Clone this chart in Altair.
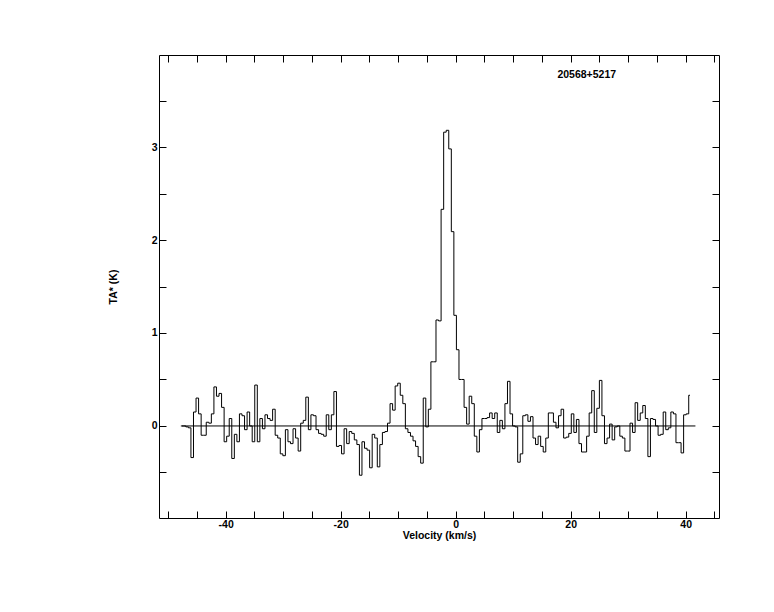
import altair as alt
import pandas as pd

# Spectrum: antenna temperature TA* (K) per channel
V_START = -47.6   # centre velocity of first channel (km/s)
DV = 0.444        # channel width (km/s)

seg_a = [0.0, 0.0, -0.01, -0.02, -0.34, 0.15, 0.30, 0.13, -0.10, -0.10, 0.04, 0.03,
         0.13, 0.42, 0.32, 0.35, 0.20, -0.17, -0.11, 0.08, -0.35, -0.09, -0.17, 0.13,
         0.11, -0.04, 0.15, 0.0, -0.17, 0.44, -0.17, 0.08, -0.03]
seg_b = [0.12, 0.08, 0.06, 0.18, -0.10, -0.13, -0.30, -0.32, -0.04, -0.17, -0.19, -0.03,
         -0.13, -0.27, 0.03, 0.06, 0.31, -0.04, 0.12, 0.11, -0.04, -0.08, -0.09, -0.11,
         0.12, -0.04, 0.12, 0.37, -0.22, -0.21, -0.30, -0.03, -0.19]
seg_c = [-0.06, -0.08, -0.15, -0.20, -0.53, -0.17, -0.24, -0.26, -0.45, -0.09, -0.13, -0.44,
         -0.20, -0.07, -0.06, 0.03, 0.24, 0.17, 0.43, 0.46, 0.33, 0.24, -0.03, -0.07,
         -0.11, -0.16, -0.22, -0.33, -0.40, 0.30, -0.01, 0.18]
seg_peak = [0.69, 0.69, 1.14, 1.13, 2.33, 3.16, 3.18, 2.98, 2.09, 1.19, 0.82, 0.50,
            0.50, 0.20, 0.02, 0.32, 0.24]
seg_d = [-0.11, -0.28, -0.04, 0.08, 0.08, 0.09, 0.14, 0.08, 0.14, -0.07, 0.06, -0.03,
         0.24, 0.48, 0.13, 0.0, -0.01, -0.39, -0.30, 0.11, 0.12, 0.05, 0.10, -0.13,
         -0.20, -0.11, -0.22, -0.28]
seg_e = [-0.13, 0.14, 0.14, 0.04, -0.02, 0.11, 0.18, -0.13, -0.12, -0.08, 0.13, -0.07,
         0.07, -0.19, -0.28, -0.28, -0.11, 0.14, 0.38, -0.07, 0.19, 0.49, 0.11, -0.19,
         -0.13, 0.02, -0.15, -0.01, 0.0, -0.11, -0.13, -0.27, -0.27, 0.03, -0.07]
seg_f = [0.25, 0.06, 0.14, 0.22, 0.08, -0.33, 0.08, 0.07, 0.0, -0.10, -0.09, 0.15,
         -0.04, -0.02, 0.15, 0.13, -0.18, -0.18, -0.29, 0.12, 0.13, 0.33]

ta = seg_a + seg_b + seg_c + seg_peak + seg_d + seg_e + seg_f
vel = [round(V_START + i * DV, 3) for i in range(len(ta))]
df = pd.DataFrame({"v": vel, "t": ta})

SOURCE = "20568+5217"
X_TITLE = "Velocity (km/s)"
Y_TITLE = "TA* (K)"
X_DOMAIN = [-51.6, 45.8]
Y_DOMAIN = [-0.99, 3.99]
X_TICKS = list(range(-50, 50, 5))
Y_TICKS = [-0.5, 0, 0.5, 1, 1.5, 2, 2.5, 3, 3.5]
BASE_FROM, BASE_TO = -47.8, 41.7
LABEL_AT = (22.8, 3.77)

one_row = pd.DataFrame({"source": [SOURCE]})

FONT = "Liberation Sans"
xs = alt.Scale(domain=X_DOMAIN, nice=False, zero=False)
ys = alt.Scale(domain=Y_DOMAIN, nice=False, zero=False)

common = dict(offset=-7, tickSize=7, domain=False, grid=False, tickColor="black",
              tickWidth=1, labelFont=FONT, labelFontSize=10.5, labelFontWeight="bold",
              labelColor="black", labelOverlap=False, labelFlush=False,
              titleFont=FONT, titleFontWeight="bold", titleColor="black")

x_bottom = alt.Axis(orient="bottom", values=X_TICKS,
                    labelExpr="datum.value % 20 == 0 ? '' + datum.value : ''",
                    labelPadding=1, title=X_TITLE, titleFontSize=10.5,
                    titleY=19, titleBaseline="top", **common)
y_left = alt.Axis(orient="left", values=Y_TICKS,
                  labelExpr="(datum.value == 0 || datum.value == 1 || datum.value == 2 || datum.value == 3) ? '' + datum.value : ''",
                  labelPadding=2, title=Y_TITLE, titleFontSize=10.5,
                  titleAngle=270, titleX=-53, titleY=231.5, titleBaseline="middle",
                  **common)
x_top = alt.Axis(orient="top", values=X_TICKS, labels=False, title="", **common)
y_right = alt.Axis(orient="right", values=Y_TICKS, labels=False, title="", **common)

spectrum = alt.Chart(df).mark_line(interpolate="step", color="black", strokeWidth=1).encode(
    x=alt.X("v:Q", scale=xs, axis=x_bottom),
    y=alt.Y("t:Q", scale=ys, axis=y_left),
)

baseline = alt.Chart(one_row).mark_rule(color="black", strokeWidth=1).encode(
    x=alt.XDatum(BASE_FROM, type="quantitative", scale=xs, axis=x_top),
    x2=alt.X2Datum(BASE_TO),
    y=alt.YDatum(0, type="quantitative", scale=ys, axis=y_right),
)

label = alt.Chart(one_row).mark_text(font=FONT, fontSize=10.5, fontWeight="bold",
                                     color="black", align="center", baseline="middle").encode(
    x=alt.XDatum(LABEL_AT[0], type="quantitative", scale=xs, axis=None),
    y=alt.YDatum(LABEL_AT[1], type="quantitative", scale=ys, axis=None),
    text=alt.Text("source:N"),
)

chart = alt.layer(spectrum, baseline, label).resolve_axis(
    x="independent", y="independent"
).properties(
    width=560, height=463,
    autosize=alt.AutoSizeParams(type="none"),
    padding={"left": 151, "top": 47, "right": 47, "bottom": 86},
    background="white",
).configure_view(stroke="black", strokeWidth=1)

chart.save("out.html", embed_options={"renderer": "svg", "actions": False})
